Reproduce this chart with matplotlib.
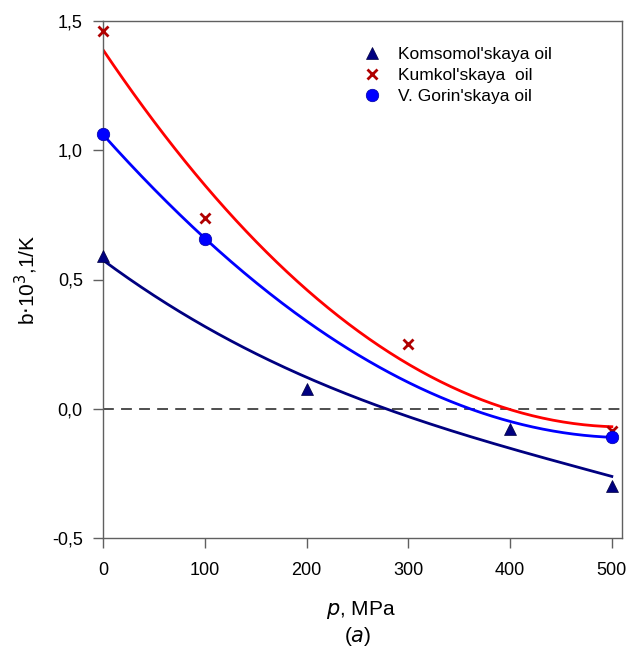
import numpy as np
import matplotlib
matplotlib.use("Agg")
import matplotlib.pyplot as plt
from matplotlib.ticker import FuncFormatter

plt.rcParams['font.family'] = ['Liberation Sans', 'DejaVu Sans']

# data
p_kom = [0, 200, 400, 500]
b_kom = [0.59, 0.078, -0.078, -0.30]
p_kum = [0, 100, 300, 500]
b_kum = [1.46, 0.736, 0.252, -0.085]
p_gor = [0, 100, 500]
b_gor = [1.062, 0.655, -0.11]

# fitted curves, read at 100 MPa steps
p_fit = [0, 100, 200, 300, 400, 500]
fit_kom = [0.575, 0.32, 0.115, -0.02, -0.16, -0.26]
fit_kum = [1.39, 0.86, 0.47, 0.165, 0.0, -0.07]
fit_gor = [1.062, 0.655, 0.345, 0.10, -0.05, -0.11]

fig = plt.figure(figsize=(6.31, 6.49), dpi=100)
ax = fig.add_axes([103 / 631, 1 - 538 / 649, 519 / 631, 517 / 649])

pp = np.linspace(0, 500, 200)
for fy, c in [(fit_kom, '#000080'), (fit_kum, '#ff0000'), (fit_gor, '#0000ff')]:
    coef = np.polyfit(p_fit, fy, 3)
    ax.plot(pp, np.polyval(coef, pp), color=c, lw=2, zorder=2)

ax.axhline(0, color='#404040', lw=1.3, ls=(0, (6, 4)), zorder=1)

ax.plot(p_kom, b_kom, ls='none', marker='^', ms=8, color='#000080', mec='#000040',
        mew=0.5, label="Komsomol'skaya oil", zorder=3, clip_on=False)
ax.plot(p_kum, b_kum, ls='none', marker='x', ms=7, mew=2, color='#b00000',
        label="Kumkol'skaya  oil", zorder=3, clip_on=False)
ax.plot(p_gor, b_gor, ls='none', marker='o', ms=9, color='#0000ff', mec='#0000a0',
        mew=0.5, label="V. Gorin'skaya oil", zorder=4, clip_on=False)

ax.set_xlim(0, 510)
ax.set_ylim(-0.5, 1.5)
ax.set_xticks([0, 100, 200, 300, 400, 500])
ax.set_yticks([-0.5, 0, 0.5, 1.0, 1.5])
ax.yaxis.set_major_formatter(FuncFormatter(lambda v, pos: f"{v:.1f}".replace('.', ',')))
ax.tick_params(direction='out', length=7.5, width=1, colors='#606060', labelcolor='black',
               labelsize=13)
ax.tick_params(axis='x', pad=10)
ax.tick_params(axis='y', pad=7)
for s in ax.spines.values():
    s.set_color('#606060')
    s.set_linewidth(1)

ax.set_ylabel(r"b$\cdot$10$^3$,1/K", fontsize=15)
ax.yaxis.set_label_coords(-0.122, 0.5)
ax.set_xlabel(r"$\it{p}$, MPa", fontsize=15)
ax.xaxis.set_label_coords(0.497, -0.118)
fig.text(358 / 631, 1 - 637 / 649, r"($\it{a}$)", ha='center', va='center', fontsize=15)

ax.legend(loc='upper left', bbox_to_anchor=(339 / 631, 1 - 31 / 649),
          bbox_transform=fig.transFigure, frameon=False, fontsize=12.5,
          handletextpad=0.5, labelspacing=0.35)

fig.savefig("out.png", dpi=100)
